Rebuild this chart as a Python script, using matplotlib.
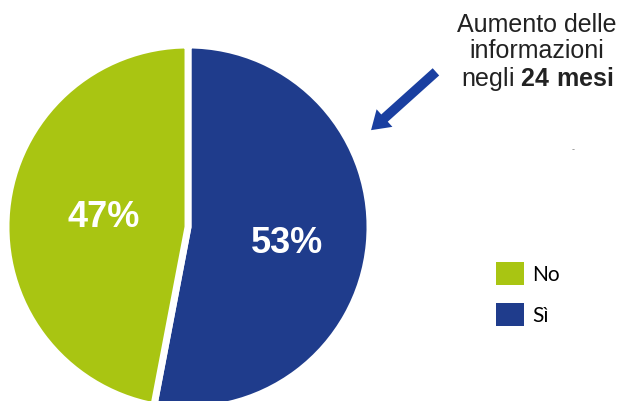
import matplotlib.pyplot as plt

plt.rcParams['mathtext.fontset'] = 'custom'
plt.rcParams['mathtext.rm'] = 'Liberation Sans'
plt.rcParams['mathtext.bf'] = 'Liberation Sans:bold'

labels = ['Sì', 'No']
values = [53, 47]
colors = ['#1f3c8c', '#a9c512']
legend_order = ['No', 'Sì']
# where the percentage labels sit (x, y in pixel-like data units)
pct_pos = [(287, 158), (104, 184)]

fig = plt.figure(figsize=(6.26, 4.02), dpi=100)
ax = fig.add_axes([0, 0, 1, 1])

wedges, _, pcts = ax.pie(values, colors=colors, startangle=90, counterclock=False,
                         center=(188, 174), radius=182, autopct='%.0f%%',
                         wedgeprops=dict(edgecolor='white', linewidth=5),
                         textprops=dict(color='white', fontsize=26, fontweight='bold',
                                        family='Liberation Sans'))
for t, p in zip(pcts, pct_pos):
    t.set_position(p)

# pie() resets the limits, so set them afterwards
ax.set_xlim(0, 626)
ax.set_ylim(0, 402)
ax.set_aspect('equal')
ax.axis('off')

# note + arrow pointing at the blue slice
ax.text(537, 349, 'Aumento delle\ninformazioni\nnegli $\\mathbf{24\\ mesi}$',
        ha='center', va='center', fontsize=18, color='#222222',
        family='Liberation Sans', linespacing=1.1)
ax.annotate('', xy=(369, 269), xytext=(438, 331),
            arrowprops=dict(arrowstyle='simple,head_width=1.7,head_length=1.3,tail_width=0.7',
                            color='#1a3fa0', lw=0))
ax.text(573, 252, '-', fontsize=6, color='#888888', ha='center', va='center')

handles = {l: w for l, w in zip(labels, wedges)}
leg = ax.legend([handles[l] for l in legend_order], legend_order,
                loc='center left', bbox_to_anchor=(477 / 626, 107 / 402),
                frameon=False, handlelength=1.34, handleheight=1.34,
                labelspacing=0.85, handletextpad=0.4, prop=dict(family='Lato', size=15))
for h in leg.legend_handles:
    h.set_edgecolor('none')

fig.savefig('out.png', dpi=100)
